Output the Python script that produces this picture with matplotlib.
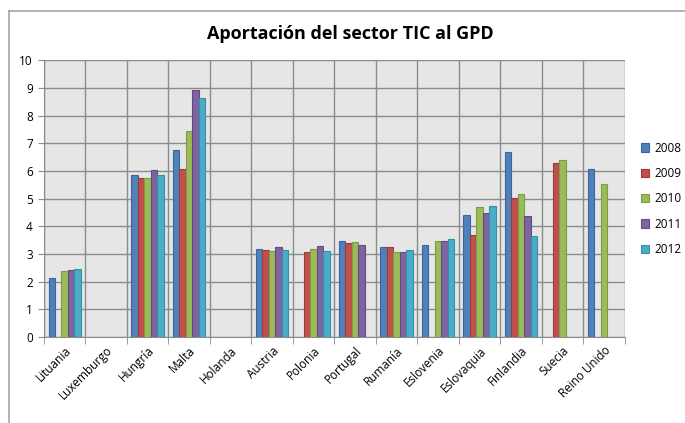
import matplotlib.pyplot as plt
import numpy as np
from matplotlib.lines import Line2D

# data (nan = no bar)
countries = ['Lituania', 'Luxemburgo', 'Hungría', 'Malta', 'Holanda', 'Austria', 'Polonia',
             'Portugal', 'Rumanía', 'Eslovenia', 'Eslovaquia', 'Finlandia', 'Suecia', 'Reino Unido']
years = ['2008', '2009', '2010', '2011', '2012']
nan = np.nan
v2008 = [2.14, nan, 5.86, 6.76, nan, 3.20, nan, 3.49, 3.26, 3.32, 4.43, 6.69, nan, 6.09]
v2009 = [nan, nan, 5.77, 6.06, nan, 3.16, 3.07, 3.42, 3.26, nan, 3.68, 5.02, 6.28, nan]
v2010 = [2.40, nan, 5.75, 7.44, nan, 3.13, 3.20, 3.45, 3.07, 3.49, 4.69, 5.19, 6.41, 5.54]
v2011 = [2.43, nan, 6.03, 8.94, nan, 3.26, 3.30, 3.33, 3.07, 3.49, 4.48, 4.37, nan, nan]
v2012 = [2.46, nan, 5.86, 8.65, nan, 3.16, 3.13, nan, 3.16, 3.55, 4.75, 3.65, nan, nan]
series = [v2008, v2009, v2010, v2011, v2012]

colors = ['#4F81BD', '#C0504D', '#9BBB59', '#8064A2', '#4BACC6']
edges = ['#3A6699', '#9E3B38', '#7E9C43', '#634C82', '#3590A8']

fig = plt.figure(figsize=(6.85, 4.23), dpi=100)
ax = fig.add_axes([0.064, 0.203, 0.848, 0.654])

# chart border (only top and left edges visible in the reference crop)
fig.add_artist(Line2D([9 / 685, 1.0], [1 - 11 / 423, 1 - 11 / 423], transform=fig.transFigure,
                      color='#A6A6A6', linewidth=1.2))
fig.add_artist(Line2D([9 / 685, 9 / 685], [0, 1 - 11 / 423], transform=fig.transFigure,
                      color='#A6A6A6', linewidth=1.2))

x = np.arange(len(countries))
w = 0.155
for i, (vals, yr) in enumerate(zip(series, years)):
    ax.bar(x + (i - 2) * w, vals, width=w, color=colors[i], edgecolor=edges[i],
           linewidth=0.8, label=yr, zorder=3)

ax.set_facecolor('#E6E6E6')
ax.set_xlim(-0.5, len(countries) - 0.5)
ax.set_ylim(0, 10)
ax.set_yticks(range(0, 11))
ax.set_xticks(x)
ax.set_xticklabels(countries, rotation=45, ha='right', rotation_mode='anchor', fontsize=8.5,
                   family='Open Sans')
ax.set_xticks(np.arange(-0.5, len(countries)), minor=True)
ax.tick_params(axis='x', which='major', length=0, pad=5)
ax.tick_params(axis='x', which='minor', length=5, color='#8C8C8C')
ax.tick_params(axis='y', length=4, color='#8C8C8C', labelsize=8.5, pad=4)
for lab in ax.get_yticklabels():
    lab.set_family('Open Sans')

ax.grid(axis='y', which='major', color='#8C8C8C', linewidth=1.0, zorder=0)
ax.grid(axis='x', which='minor', color='#8C8C8C', linewidth=1.0, zorder=0)
ax.set_axisbelow(True)
for s in ['top', 'right']:
    ax.spines[s].set_visible(False)
ax.spines['left'].set_color('#8C8C8C')
ax.spines['bottom'].set_color('#8C8C8C')

fig.suptitle('Aportación del sector TIC al GPD', x=0.511, y=0.94, fontsize=13,
             fontweight='bold', family='Open Sans')

ax.legend(loc='center left', bbox_to_anchor=(1.01, 0.5), frameon=False,
          handlelength=0.7, handleheight=0.7, labelspacing=1.05, handletextpad=0.4,
          prop={'family': 'Open Sans', 'size': 8.5})

fig.savefig('out.png', dpi=100)
